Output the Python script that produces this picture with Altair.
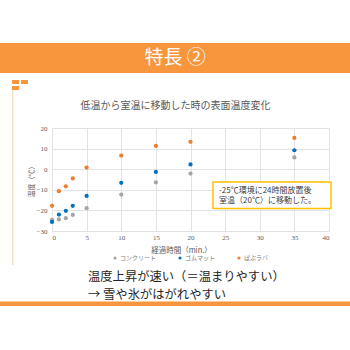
import altair as alt
import pandas as pd

# ---- data ----
minutes = [0, 1, 2, 3, 5, 10, 15, 20, 35]
concrete = [-24.6, -24.4, -23.8, -22.2, -18.9, -12.3, -6.4, -2.1, 5.7]
rubber_mat = [-25.6, -22.0, -20.2, -17.8, -13.0, -6.6, -1.3, 2.3, 9.2]
pabu_rubber = [-17.8, -10.7, -8.3, -4.5, 0.8, 6.6, 11.3, 13.3, 15.2]
series_names = ["コンクリート", "ゴムマット", "ぱぶラバ"]
series_colors = ["#A5A5A5", "#0070C0", "#ED7D31"]
x_ticks = [0, 5, 10, 15, 20, 25, 30, 35, 40]
y_ticks = [-30, -20, -10, 0, 10, 20]

rows = []
for name, vals in zip(series_names, [concrete, rubber_mat, pabu_rubber]):
    for m, v in zip(minutes, vals):
        rows.append({"min": m, "temp": v, "series": name})
df = pd.DataFrame(rows)

JP = "Noto Sans CJK JP"
ORANGE = "#F7963C"
W, H = 277, 103
L, T = 52, 128

points = alt.Chart(df).mark_circle(size=18, opacity=1).encode(
    x=alt.X("min:Q", scale=alt.Scale(domain=[0, 40], nice=False),
            axis=alt.Axis(values=x_ticks, title="経過時間（min.）", grid=True,
                          gridColor="#E3E3E3", domain=False, ticks=False,
                          labelFont="Liberation Serif", labelFontSize=7,
                          labelColor="#595959", labelPadding=2,
                          titleFont=JP, titleFontSize=7.5, titleFontWeight="normal",
                          titleColor="#595959", titleY=19, titleX=129,
                          titleBaseline="middle")),
    y=alt.Y("temp:Q", scale=alt.Scale(domain=[-30, 20], nice=False),
            axis=alt.Axis(values=y_ticks, title="温度（℃）", grid=True,
                          gridColor="#E3E3E3", domain=False, ticks=False,
                          labelFont="Liberation Serif", labelFontSize=7,
                          labelColor="#595959", labelPadding=5,
                          titleFont=JP, titleFontSize=7, titleFontWeight="normal",
                          titleColor="#595959", titleX=-21, titleY=H / 2,
                          titleBaseline="middle", titleAngle=-90)),
    color=alt.Color("series:N",
                    scale=alt.Scale(domain=series_names, range=series_colors),
                    legend=alt.Legend(orient="none", legendX=60, legendY=127,
                                      direction="horizontal", title=None,
                                      labelFont=JP, labelFontSize=6,
                                      labelColor="#808080", symbolType="circle",
                                      symbolSize=10, labelOffset=2,
                                      columnPadding=20)),
)

def vrect(x, x2, y, y2, color, stroke=None, sw=0):
    kw = dict(color=color)
    if stroke:
        kw = dict(fill=color, stroke=stroke, strokeWidth=sw)
    return alt.Chart(pd.DataFrame({"a": [0]})).mark_rect(**kw).encode(
        x=alt.value(x), x2=alt.value(x2), y=alt.value(y), y2=alt.value(y2))

def vtext(txt, x, y, size, color, align="center", font=JP, weight="normal"):
    return alt.Chart(pd.DataFrame({"t": [txt]})).mark_text(
        align=align, baseline="middle", fontSize=size, color=color,
        font=font, fontWeight=weight).encode(
        x=alt.value(x), y=alt.value(y), text="t:N")

layers = [
    # header band
    vrect(-L, 350 - L, 43 - T, 73 - T, ORANGE),
    vtext("特長 ②", 175 - L, 58 - T, 19, "white"),
    # small icon
    vrect(12 - L, 19 - L, 80 - T, 84 - T, ORANGE),
    vrect(21 - L, 28 - L, 80 - T, 84 - T, ORANGE),
    vrect(12 - L, 19 - L, 86 - T, 90 - T, ORANGE),
    vrect(12 - L, 13.5 - L, 90 - T, 265 - T, "#F6E3C6"),
    # chart title
    vtext("低温から室温に移動した時の表面温度変化", 175.5 - L, 106 - T, 10, "#595959"),
    points,
    # annotation box
    vrect(213 - L, 331 - L, 182 - T, 208.5 - T, "white", stroke="#FFC000", sw=1.5),
    vtext("-25℃環境に24時間放置後", 219 - L, 190.5 - T, 8, "#404040", align="left"),
    vtext("室温（20℃）に移動した。", 219 - L, 200.5 - T, 8, "#404040", align="left"),
    # bottom texts
    vtext("温度上昇が速い（＝温まりやすい）", 88 - L, 276.5 - T, 12.3, "#262626", align="left"),
    vtext("→ 雪や氷がはがれやすい", 88 - L, 294.5 - T, 12.3, "#262626", align="left"),
    vrect(-L, 350 - L, 301.5 - T, 306 - T, ORANGE),
]

chart = alt.layer(*layers).properties(
    width=W, height=H,
    autosize=alt.AutoSizeParams(type="none"),
    padding={"left": L, "top": T, "right": 350 - L - W, "bottom": 350 - T - H},
    background="white",
).configure_view(strokeWidth=0)

chart.save("out.html", embed_options={"renderer": "svg", "actions": False})
